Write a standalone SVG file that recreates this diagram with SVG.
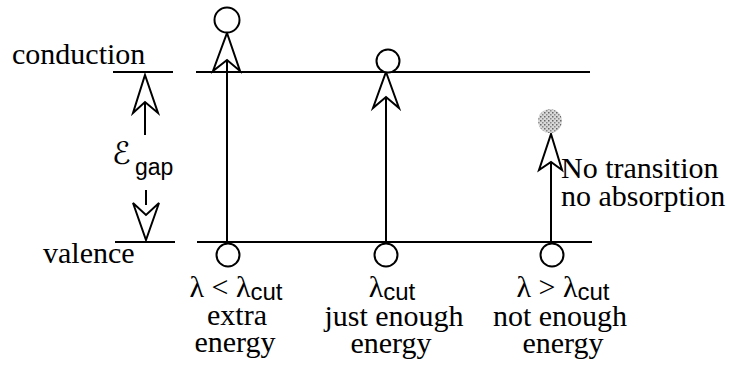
<svg xmlns="http://www.w3.org/2000/svg" width="730" height="367" viewBox="0 0 730 367">
<style>
.lvl{stroke:#000;stroke-width:2;fill:none}
.shaft{stroke:#000;stroke-width:2;fill:none}
.head{stroke:#000;stroke-width:2;fill:#fff;stroke-linejoin:miter}
.el{stroke:#000;stroke-width:2;fill:#fff}
.t{font-family:'Liberation Serif','Times New Roman',serif;font-size:30px;fill:#000}
.s{font-family:'Liberation Sans',Arial,sans-serif;font-size:24px}
</style>
<defs>
<pattern id="speck" width="4" height="4" patternUnits="userSpaceOnUse">
<rect width="4" height="4" fill="#d8d8d8"/>
<rect x="0" y="0" width="1.5" height="1.5" fill="#666"/>
<rect x="2" y="2" width="1.5" height="1.5" fill="#888"/>
</pattern>
</defs>
<rect width="730" height="367" fill="#fff"/>

<g id="conduction">
<line class="lvl" x1="113" y1="72" x2="173" y2="72"/>
<line class="lvl" x1="196" y1="72" x2="590" y2="72"/>
<text class="t" x="12" y="64">conduction</text>
</g>
<g id="valence">
<line class="lvl" x1="115" y1="242" x2="175" y2="242"/>
<line class="lvl" x1="197" y1="242" x2="592" y2="242"/>
<text class="t" x="43" y="263">valence</text>
</g>

<g id="connectors">
<line class="shaft" x1="145" y1="102" x2="145" y2="135"/>
<polygon class="head" points="145,75 158,113 145,102 133,113"/>
<line class="shaft" x1="146" y1="190" x2="146" y2="205"/>
<polygon class="head" points="146,240 159,203 146,215 133,203"/>
<line class="shaft" x1="227" y1="60" x2="227" y2="242"/>
<polygon class="head" points="227,33 240,71 227,60 213,71"/>
<line class="shaft" x1="386" y1="97" x2="386" y2="242"/>
<polygon class="head" points="386,72 399,108 386,97 373,108"/>
<line class="shaft" x1="551" y1="162" x2="551" y2="242"/>
<polygon class="head" points="551,134 562,170 551,162 539,170"/>
</g>

<g id="gap-label">
<text x="112" y="164" font-family="DejaVu Sans, sans-serif" font-size="31">ℰ</text>
<text x="135" y="175" font-family="Liberation Sans, Arial, sans-serif" font-size="23">gap</text>
</g>

<g id="col1">
<circle class="el" cx="227" cy="20" r="12.5"/>
<circle class="el" cx="228" cy="255" r="11.5"/>
<text class="t" x="236" y="297" text-anchor="middle">λ &lt; λ<tspan class="s" dy="3">cut</tspan></text>
<text class="t" x="237" y="325" text-anchor="middle">extra</text>
<text class="t" x="235" y="352" text-anchor="middle">energy</text>
</g>
<g id="col2">
<circle class="el" cx="388" cy="61" r="11.5"/>
<circle class="el" cx="386" cy="255" r="11.5"/>
<text class="t" x="392" y="297" text-anchor="middle">λ<tspan class="s" dy="3">cut</tspan></text>
<text class="t" x="394" y="326" text-anchor="middle">just enough</text>
<text class="t" x="391" y="353" text-anchor="middle">energy</text>
</g>
<g id="col3">
<circle cx="550" cy="121" r="12" fill="url(#speck)"/>
<circle class="el" cx="552" cy="255" r="11.5"/>
<text class="t" x="563" y="297" text-anchor="middle">λ &gt; λ<tspan class="s" dy="3">cut</tspan></text>
<text class="t" x="560" y="326" text-anchor="middle">not enough</text>
<text class="t" x="563" y="353" text-anchor="middle">energy</text>
<text class="t" x="561" y="178">No transition</text>
<text class="t" x="561" y="206">no absorption</text>
</g>
</svg>
